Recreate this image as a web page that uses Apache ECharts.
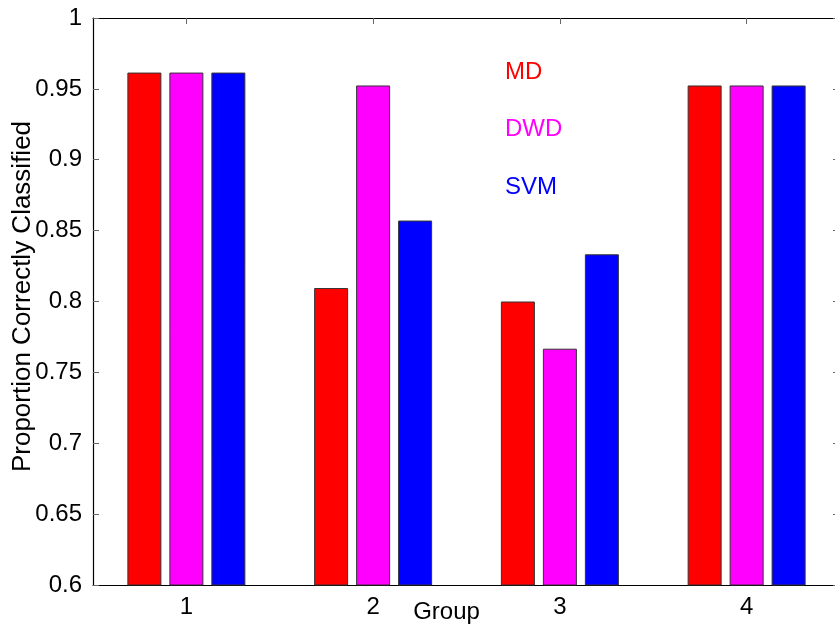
<!DOCTYPE html>
<html><head><meta charset="utf-8">
<script src="https://cdn.jsdelivr.net/npm/echarts@6/dist/echarts.min.js"></script>
<style>html,body{margin:0;padding:0;background:#fff}#c{width:835px;height:626px}</style>
</head><body><div id="c"></div>
<script>
const categories = ['1', '2', '3', '4'];
const seriesNames = ['MD', 'DWD', 'SVM'];
const mdValues = [0.9615, 0.8095, 0.8, 0.9524];
const dwdValues = [0.9615, 0.9524, 0.7667, 0.9524];
const svmValues = [0.9615, 0.8571, 0.8333, 0.9524];
const colors = ['#ff0000', '#ff00ff', '#0000ff'];
const yTicks = { min: 0.6, max: 1, interval: 0.05 };

const font = 'Liberation Sans, Arial, sans-serif';
const chart = echarts.init(document.getElementById('c'));
const values = [mdValues, dwdValues, svmValues];
const axisLine = { show: true, lineStyle: { color: '#000', width: 1.2 } };
chart.setOption({
  animation: false,
  grid: { left: 93, right: -5, top: 18, bottom: 41, containLabel: false, outerBoundsMode: 'none' },
  xAxis: [
    { type: 'category', data: categories, position: 'bottom',
      axisLine: axisLine, axisTick: { show: true, inside: true, alignWithLabel: true, length: 6, lineStyle: { color: '#666' } },
      axisLabel: { color: '#000', fontSize: 24, fontFamily: font, margin: 10 },
      name: 'Group', nameLocation: 'middle', nameGap: 15, nameMoveOverlap: false,
      nameTextStyle: { color: '#000', fontSize: 24, fontFamily: font, padding: [0, 40, 0, 0] } },
    { type: 'category', data: categories, position: 'top',
      axisLine: axisLine, axisTick: { show: true, inside: true, alignWithLabel: true, length: 6, lineStyle: { color: '#666' } },
      axisLabel: { show: false } }
  ],
  yAxis: [
    { type: 'value', min: yTicks.min, max: yTicks.max, interval: yTicks.interval, position: 'left',
      axisLine: axisLine, axisTick: { show: true, inside: true, length: 6, lineStyle: { color: '#666' } },
      splitLine: { show: false },
      axisLabel: { color: '#000', fontSize: 24, fontFamily: font, margin: 11 },
      name: 'Proportion Correctly Classified', nameLocation: 'middle', nameGap: 57, nameMoveOverlap: false,
      nameTextStyle: { color: '#000', fontSize: 26, fontFamily: font, padding: [0, 0, 0, 10] } },
    { type: 'value', min: yTicks.min, max: yTicks.max, interval: yTicks.interval, position: 'right',
      axisLine: axisLine, axisTick: { show: true, inside: true, length: 7, lineStyle: { color: '#666' } },
      splitLine: { show: false }, axisLabel: { show: false } }
  ],
  series: seriesNames.map((n, i) => ({
    name: n, type: 'bar', data: values[i], barWidth: 34, barGap: '23.5%',
    itemStyle: { color: colors[i], borderColor: '#333', borderWidth: 1 }
  })),
  graphic: seriesNames.map((n, i) => ({
    type: 'text', left: 505, top: 60 + i * 57.5,
    style: { text: n, fill: colors[i], fontSize: 24, fontFamily: font }
  }))
});
</script></body></html>
